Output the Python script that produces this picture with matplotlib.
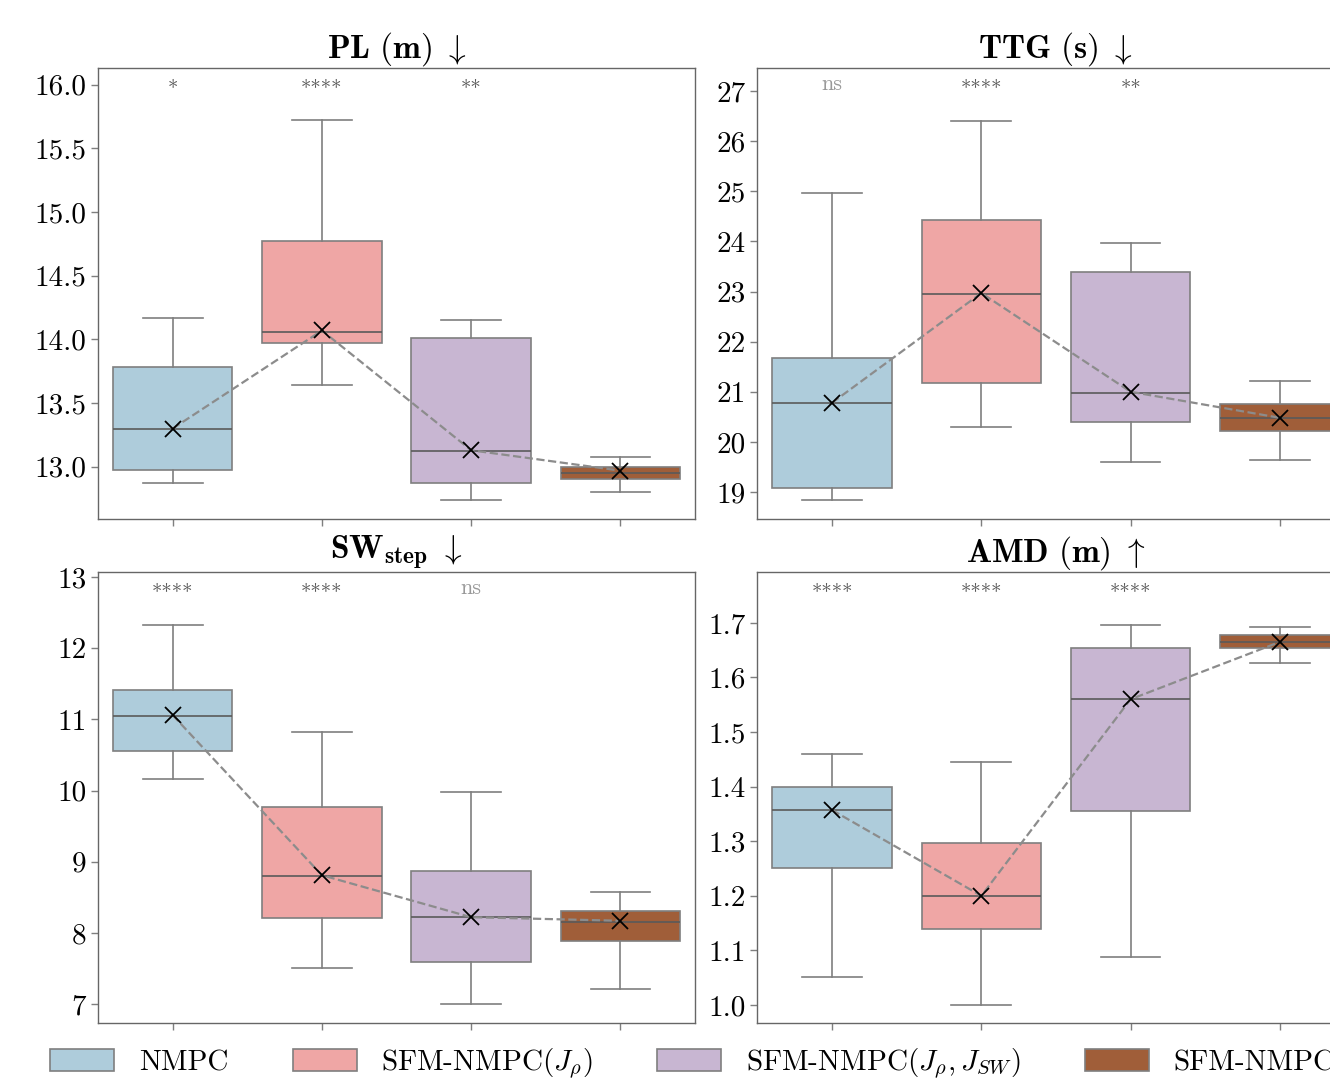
import colorsys
import numpy as np
import matplotlib
matplotlib.use('Agg')
import matplotlib.pyplot as plt
import matplotlib.colors as mcolors
from matplotlib.patches import Patch

plt.rcParams['font.family'] = 'cmr10'
plt.rcParams['mathtext.fontset'] = 'cm'
plt.rcParams['axes.formatter.use_mathtext'] = True

# Methods and colours
methods = ['NMPC', r'SFM-NMPC($J_\rho$)', r'SFM-NMPC($J_\rho, J_{SW}$)', 'SFM-NMPC']
base_colors = ['#a6cee3', '#fb9a99', '#cab2d6', '#b15928']

# Box statistics per metric: whisker low, q1, median, q3, whisker high, mean
pl_low = [12.87, 13.64, 12.74, 12.80]
pl_q1 = [12.976, 13.974, 12.87, 12.906]
pl_med = [13.30, 14.06, 13.126, 12.953]
pl_q3 = [13.785, 14.775, 14.013, 13.00]
pl_high = [14.17, 15.72, 14.155, 13.08]
pl_mean = [13.30, 14.07, 13.13, 12.97]
pl_sig = ['*', '****', '**', '']

ttg_low = [18.84, 20.30, 19.60, 19.64]
ttg_q1 = [19.08, 21.17, 20.40, 20.22]
ttg_med = [20.775, 22.95, 20.975, 20.48]
ttg_q3 = [21.67, 24.43, 23.39, 20.76]
ttg_high = [24.965, 26.40, 23.97, 21.21]
ttg_mean = [20.78, 22.97, 21.0, 20.48]
ttg_sig = ['ns', '****', '**', '']

sw_low = [10.16, 7.51, 7.0, 7.21]
sw_q1 = [10.555, 8.21, 7.59, 7.885]
sw_med = [11.05, 8.80, 8.22, 8.15]
sw_q3 = [11.41, 9.77, 8.87, 8.31]
sw_high = [12.33, 10.82, 9.98, 8.57]
sw_mean = [11.06, 8.81, 8.22, 8.17]
sw_sig = ['****', '****', 'ns', '']

amd_low = [1.051, 1.0, 1.088, 1.627]
amd_q1 = [1.251, 1.139, 1.3555, 1.654]
amd_med = [1.357, 1.20, 1.561, 1.665]
amd_q3 = [1.40, 1.297, 1.654, 1.678]
amd_high = [1.46, 1.445, 1.696, 1.693]
amd_mean = [1.357, 1.20, 1.56, 1.665]
amd_sig = ['****', '****', '****', '']

panels = [
    (r'$\mathbf{PL\ (m)}\ \downarrow$', pl_low, pl_q1, pl_med, pl_q3, pl_high, pl_mean, pl_sig,
     (12.59, 16.13), [13.0, 13.5, 14.0, 14.5, 15.0, 15.5, 16.0], '{:.1f}'),
    (r'$\mathbf{TTG\ (s)}\ \downarrow$', ttg_low, ttg_q1, ttg_med, ttg_q3, ttg_high, ttg_mean, ttg_sig,
     (18.46, 27.46), list(range(19, 28)), '{:.0f}'),
    (r'$\mathbf{SW}_{\mathbf{step}}\ \downarrow$', sw_low, sw_q1, sw_med, sw_q3, sw_high, sw_mean, sw_sig,
     (6.733, 13.07), list(range(7, 14)), '{:.0f}'),
    (r'$\mathbf{AMD\ (m)}\ \uparrow$', amd_low, amd_q1, amd_med, amd_q3, amd_high, amd_mean, amd_sig,
     (0.967, 1.793), [1.0, 1.1, 1.2, 1.3, 1.4, 1.5, 1.6, 1.7], '{:.1f}'),
]


def desaturate(c, prop=0.75):
    # same idea as seaborn's saturation=0.75
    h, l, s = colorsys.rgb_to_hls(*mcolors.to_rgb(c))
    return colorsys.hls_to_rgb(h, l, s * prop)


colors = [desaturate(c) for c in base_colors]

fig = plt.figure(figsize=(13.3, 10.82), dpi=100)

# axes rectangles (right column runs past the figure edge)
rects = [
    [0.0737, 0.5203, 0.4489, 0.4168],
    [0.5695, 0.5203, 0.4489, 0.4168],
    [0.0737, 0.0545, 0.4489, 0.4168],
    [0.5695, 0.0545, 0.4489, 0.4168],
]

edge = '#7f7f7f'
pos = np.arange(len(methods))

for rect, (title, low, q1, med, q3, high, mean, sig, ylim, yt, fmt) in zip(rects, panels):
    ax = fig.add_axes(rect)
    stats = []
    for i in range(len(methods)):
        stats.append(dict(whislo=low[i], q1=q1[i], med=med[i], q3=q3[i], whishi=high[i], fliers=[]))
    bp = ax.bxp(stats, positions=pos, widths=0.8, capwidths=0.4, patch_artist=True,
                showfliers=False,
                boxprops=dict(edgecolor=edge, linewidth=1.2),
                whiskerprops=dict(color=edge, linewidth=1.2),
                capprops=dict(color=edge, linewidth=1.2),
                medianprops=dict(color='#5a5a5a', linewidth=1.2))
    for patch, c in zip(bp['boxes'], colors):
        patch.set_facecolor(c)
        patch.set_edgecolor(edge)

    ax.plot(pos, mean, '--', color='#8c8c8c', lw=1.6, zorder=4)
    ax.plot(pos, mean, 'x', color='k', ms=12, mew=1.3, zorder=5)

    for i, s in enumerate(sig):
        if s == 'ns':
            ax.text(pos[i], 0.965, s, transform=ax.get_xaxis_transform(), ha='center', va='center',
                    fontsize=16, color='#999999')
        elif s:
            ax.text(pos[i], 0.952, s, transform=ax.get_xaxis_transform(), ha='center', va='center',
                    fontsize=15, color='#555555')

    ax.set_xlim(-0.5, 3.5)
    ax.set_ylim(*ylim)
    ax.set_yticks(yt)
    ax.set_yticklabels([fmt.format(v) for v in yt], fontsize=21)
    ax.set_xticks(pos)
    ax.set_xticklabels([])
    ax.tick_params(color=edge, length=5, width=1)
    for sp in ax.spines.values():
        sp.set_color('#666666')
        sp.set_linewidth(1.0)
    ax.set_title(title, fontsize=24, pad=1)

handles = [Patch(facecolor=c, edgecolor=edge, linewidth=1.2) for c in colors]
fig.legend(handles, methods, loc='center left', bbox_to_anchor=(0.0376, 0.017), ncol=4,
           frameon=False, fontsize=21, borderpad=0, borderaxespad=0, handlelength=2.2,
           handleheight=0.75, handletextpad=0.85, columnspacing=2.2)

fig.savefig('out.png', dpi=100)
